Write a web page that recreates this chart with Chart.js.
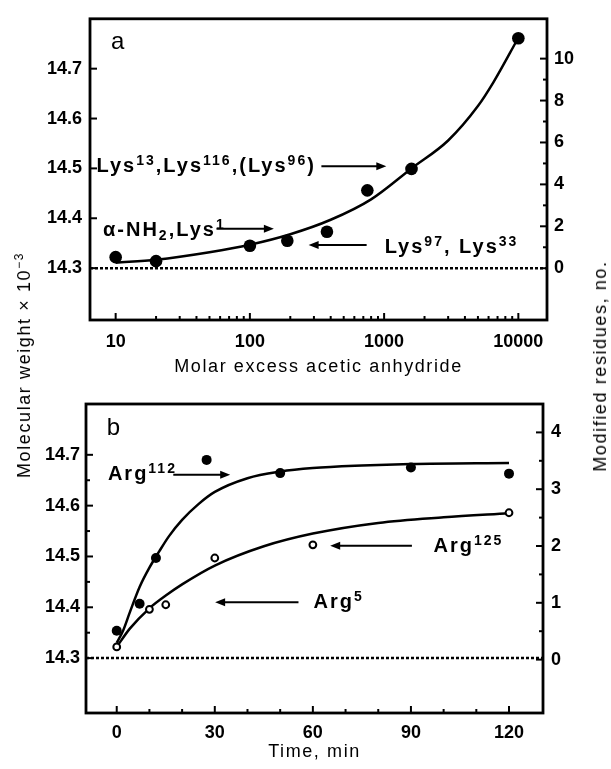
<!DOCTYPE html>
<html>
<head>
<meta charset="utf-8">
<script src="https://cdn.jsdelivr.net/npm/chart.js@4.4.1/dist/chart.umd.min.js"></script>
<style>
  body { margin: 0; background: #fff; }
  #wrap { position: relative; width: 611px; height: 769px; font-family: "Liberation Sans", Arial, sans-serif; color: #000; }
  #chartA { position: absolute; left: 0; top: 0; }
  #chartB { position: absolute; left: 0; top: 385px; }
  .ytitle { position: absolute; font-size: 18px; letter-spacing: 1.6px; white-space: nowrap; line-height: 20px;
            transform: translate(-50%, -50%) rotate(-90deg); }
  .ytitle sup { font-size: 12px; line-height: 0; }
</style>
</head>
<body>
<div id="wrap">
  <canvas id="chartA" width="611" height="385"></canvas>
  <canvas id="chartB" width="611" height="384"></canvas>
  <div class="ytitle" style="left:24px; top:365px;">Molecular weight × 10<sup>−3</sup></div>
  <div class="ytitle" style="left:600px; top:366px;">Modified residues, no.</div>
</div>
<script>
// panel a - acetylation vs molar excess of acetic anhydride
const molarExcess = [10, 20, 100, 190, 375, 750, 1600, 10000];
const mwAcetyl = [14.322, 14.314, 14.345, 14.355, 14.373, 14.456, 14.499, 14.761];
const fitExcess = [10, 20, 50, 100, 200, 400, 800, 1600, 3000, 5000, 6500, 10000];
const fitAcetyl = [14.311, 14.317, 14.332, 14.347, 14.368, 14.397, 14.438, 14.5, 14.556, 14.625, 14.672, 14.762];

// panel b - arginine modification vs time
const timeFilled = [0, 7, 12, 27.5, 50, 90, 120];
const mwFilled = [14.354, 14.407, 14.497, 14.69, 14.664, 14.675, 14.663];
const timeOpen = [0, 10, 15, 30, 60, 120];
const mwOpen = [14.322, 14.396, 14.405, 14.497, 14.523, 14.586];
const fitTimeUpper = [0, 2, 4, 7, 10, 13, 16, 20, 25, 30, 40, 50, 60, 75, 90, 120];
const fitUpper = [14.33, 14.355, 14.39, 14.44, 14.478, 14.51, 14.54, 14.572, 14.603, 14.627, 14.654, 14.667, 14.674, 14.679, 14.682, 14.684];
const fitTimeLower = [0, 4, 10, 15, 20, 30, 45, 60, 80, 100, 120];
const fitLower = [14.322, 14.358, 14.398, 14.423, 14.445, 14.482, 14.52, 14.545, 14.566, 14.577, 14.585];

const baseMW = 14.3;

// axes
const excessRange = [6.44, 16350];
const excessTicks = [10, 20, 30, 40, 50, 60, 70, 80, 90, 100, 200, 300, 400, 500, 600, 700, 800, 900,
                     1000, 2000, 3000, 4000, 5000, 6000, 7000, 8000, 9000, 10000];
const excessLabels = [10, 100, 1000, 10000];
const mwRangeA = [14.196, 14.8];
const mwTicksA = [14.3, 14.4, 14.5, 14.6, 14.7];
const residueRangeA = [-2.47, 11.9];
const residueTicksA = [0, 1, 2, 3, 4, 5, 6, 7, 8, 9, 10];
const residueLabelsA = [0, 2, 4, 6, 8, 10];

const timeRange = [-9.4, 130.4];
const timeTicks = [0, 10, 20, 30, 40, 50, 60, 70, 80, 90, 100, 110, 120];
const timeLabels = [0, 30, 60, 90, 120];
const mwRangeB = [14.192, 14.8];
const mwTicksB = [14.3, 14.35, 14.4, 14.45, 14.5, 14.55, 14.6, 14.65, 14.7];
const mwLabelsB = [14.3, 14.4, 14.5, 14.6, 14.7];
const residueRangeB = [-0.94, 4.5];
const residueTicksB = [0, 0.5, 1, 1.5, 2, 2.5, 3, 3.5, 4];
const residueLabelsB = [0, 1, 2, 3, 4];

// annotations (data coordinates)
const notesA = [
  {x: 7.2, y: 14.508, parts: [['Lys'], ['13', 'sup'], [',Lys'], ['116', 'sup'], [',(Lys'], ['96', 'sup'], [')']]},
  {x: 8.05, y: 14.379, parts: [['α-NH'], ['2', 'sub'], [',Lys'], ['1', 'sup']]},
  {x: 1009, y: 14.345, parts: [['Lys'], ['97', 'sup'], [', Lys'], ['33', 'sup']]}
];
const arrowsA = [
  {from: 341, to: 1038, y: 14.5045},
  {from: 56.4, to: 151, y: 14.379},
  {from: 741, to: 274, y: 14.3465}
];
const notesB = [
  {x: -2.7, y: 14.666, parts: [['Arg'], ['112', 'sup']]},
  {x: 96.9, y: 14.523, parts: [['Arg'], ['125', 'sup']]},
  {x: 60.2, y: 14.413, parts: [['Arg'], ['5', 'sup']]}
];
const arrowsB = [
  {from: 17.3, to: 34.7, y: 14.661},
  {from: 90.3, to: 65.3, y: 14.521},
  {from: 55.6, to: 30.1, y: 14.41}
];

const FAM = '"Liberation Sans", Arial, sans-serif';
const tickFont = {family: FAM, size: 18, weight: 'bold'};
const titleFont = {family: FAM, size: 18, weight: 'normal'};

function pts(xs, ys) { return xs.map((x, i) => ({x: x, y: ys[i]})); }
function near(list, v) { return list.some(l => Math.abs(l - v) < 1e-6); }
function fixed(values) { return s => { s.ticks = values.map(v => ({value: v})); }; }

function drawRich(ctx, parts, x, y) {
  let cx = x;
  const base = y + 7.4;
  for (const p of parts) {
    const txt = p[0], kind = p[1];
    if (kind === 'sup') { ctx.font = 'bold 14px ' + FAM; ctx.fillText(txt, cx, base - 7); }
    else if (kind === 'sub') { ctx.font = 'bold 14px ' + FAM; ctx.fillText(txt, cx, base + 4); }
    else { ctx.font = 'bold 20px ' + FAM; ctx.fillText(txt, cx, base); }
    cx += ctx.measureText(txt).width;
  }
}

function framePlugin(notes, arrows, letter) {
  return {
    id: 'frame',
    beforeDraw(chart) { chart.ctx.letterSpacing = '1.6px'; },
    afterDatasetsDraw(chart) { chart.ctx.letterSpacing = '0px'; },
    afterDraw(chart) {
      const ctx = chart.ctx, a = chart.chartArea;
      const xs = chart.scales.x, ys = chart.scales.y;
      ctx.save();
      ctx.strokeStyle = '#000';
      ctx.fillStyle = '#000';
      ctx.lineWidth = 2.8;
      ctx.strokeRect(a.left, a.top, a.right - a.left, a.bottom - a.top);
      // inward tick marks
      ctx.lineWidth = 2;
      for (const s of Object.values(chart.scales)) {
        for (const t of s.ticks) {
          const p = s.getPixelForValue(t.value);
          const len = t.label ? 7 : 4;
          ctx.beginPath();
          if (s.position === 'bottom') { ctx.moveTo(p, a.bottom); ctx.lineTo(p, a.bottom - len); }
          else if (s.position === 'left') { ctx.moveTo(a.left, p); ctx.lineTo(a.left + len, p); }
          else { ctx.moveTo(a.right, p); ctx.lineTo(a.right - len, p); }
          ctx.stroke();
        }
      }
      // arrows
      for (const ar of arrows) {
        const x1 = xs.getPixelForValue(ar.from), x2 = xs.getPixelForValue(ar.to), y = ys.getPixelForValue(ar.y);
        const dir = Math.sign(x2 - x1);
        ctx.beginPath();
        ctx.moveTo(x1, y); ctx.lineTo(x2 - dir * 6, y);
        ctx.stroke();
        ctx.beginPath();
        ctx.moveTo(x2, y); ctx.lineTo(x2 - dir * 10, y - 4); ctx.lineTo(x2 - dir * 10, y + 4);
        ctx.closePath(); ctx.fill();
      }
      // labels
      ctx.textAlign = 'left';
      ctx.textBaseline = 'alphabetic';
      ctx.letterSpacing = '2px';
      for (const n of notes) drawRich(ctx, n.parts, xs.getPixelForValue(n.x), ys.getPixelForValue(n.y));
      ctx.letterSpacing = '0px';
      ctx.font = '24px ' + FAM;
      ctx.fillText(letter.text, xs.getPixelForValue(letter.x), ys.getPixelForValue(letter.y));
      ctx.restore();
    }
  };
}

function panel(id, o) {
  return new Chart(document.getElementById(id), {
    type: 'scatter',
    data: {datasets: o.datasets},
    options: {
      responsive: false,
      animation: false,
      devicePixelRatio: 1,
      layout: {padding: {top: o.top, left: 0, right: 0, bottom: 0}},
      plugins: {legend: {display: false}, tooltip: {enabled: false}},
      scales: {
        x: {
          type: o.xType, position: 'bottom', min: o.xRange[0], max: o.xRange[1],
          afterBuildTicks: fixed(o.xTicks),
          afterFit: s => { s.height = o.xHeight; },
          grid: {display: false, drawTicks: false},
          border: {display: false},
          ticks: {z: 1, autoSkip: false, maxRotation: 0, color: '#000', font: tickFont, padding: o.xPad,
                  callback: v => near(o.xLabels, v) ? String(v) : ''},
          title: {display: true, text: o.xTitle, color: '#000', font: titleFont, padding: {top: 0, bottom: o.titlePad}}
        },
        y: {
          type: 'linear', position: 'left', min: o.mwRange[0], max: o.mwRange[1],
          afterBuildTicks: fixed(o.mwTicks),
          afterFit: s => { s.width = o.leftW; },
          grid: {display: false, drawTicks: false},
          border: {display: false},
          ticks: {z: 1, autoSkip: false, color: '#000', font: tickFont, padding: o.yPad,
                  callback: v => near(o.mwLabels, v) ? v.toFixed(1) : ''}
        },
        y2: {
          type: 'linear', position: 'right', min: o.resRange[0], max: o.resRange[1],
          afterBuildTicks: fixed(o.resTicks),
          afterFit: s => { s.width = o.rightW; },
          grid: {display: false, drawTicks: false},
          border: {display: false},
          ticks: {z: 1, autoSkip: false, color: '#000', font: tickFont, padding: o.y2Pad,
                  callback: v => near(o.resLabels, v) ? String(v) : ''}
        }
      }
    },
    plugins: [framePlugin(o.notes, o.arrows, o.letter)]
  });
}

const dashed = (range) => ({
  data: [{x: range[0], y: baseMW}, {x: range[1], y: baseMW}],
  showLine: true, borderColor: '#000', borderWidth: 2.5, borderDash: [3, 2], pointRadius: 0
});
const fitLine = (xs, ys) => ({
  data: pts(xs, ys), showLine: true, borderColor: '#000', borderWidth: 2.5,
  cubicInterpolationMode: 'monotone', pointRadius: 0
});

panel('chartA', {
  datasets: [
    {data: pts(molarExcess, mwAcetyl), pointRadius: 6.3, pointBackgroundColor: '#000', pointBorderColor: '#000', pointBorderWidth: 0},
    fitLine(fitExcess, fitAcetyl),
    dashed(excessRange)
  ],
  top: 12, xHeight: 65, leftW: 90, rightW: 64, xPad: 11, titlePad: 7, yPad: 8, y2Pad: 7,
  xType: 'logarithmic', xRange: excessRange, xTicks: excessTicks, xLabels: excessLabels,
  xTitle: 'Molar excess acetic anhydride',
  mwRange: mwRangeA, mwTicks: mwTicksA, mwLabels: mwTicksA,
  resRange: residueRangeA, resTicks: residueTicksA, resLabels: residueLabelsA,
  notes: notesA, arrows: arrowsA, letter: {text: 'a', x: 9.23, y: 14.74}
});

panel('chartB', {
  datasets: [
    {data: pts(timeFilled, mwFilled), pointRadius: 5, pointBackgroundColor: '#000', pointBorderColor: '#000', pointBorderWidth: 0},
    {data: pts(timeOpen, mwOpen), pointRadius: 3.4, pointBackgroundColor: '#fff', pointBorderColor: '#000', pointBorderWidth: 2},
    fitLine(fitTimeUpper, fitUpper),
    fitLine(fitTimeLower, fitLower),
    dashed(timeRange)
  ],
  top: 19, xHeight: 56, leftW: 86, rightW: 68, xPad: 9, titlePad: 6, yPad: 6, y2Pad: 8,
  xType: 'linear', xRange: timeRange, xTicks: timeTicks, xLabels: timeLabels,
  xTitle: 'Time, min',
  mwRange: mwRangeB, mwTicks: mwTicksB, mwLabels: mwLabelsB,
  resRange: residueRangeB, resTicks: residueTicksB, resLabels: residueLabelsB,
  notes: notesB, arrows: arrowsB, letter: {text: 'b', x: -3.06, y: 14.739}
});
</script>
</body>
</html>
